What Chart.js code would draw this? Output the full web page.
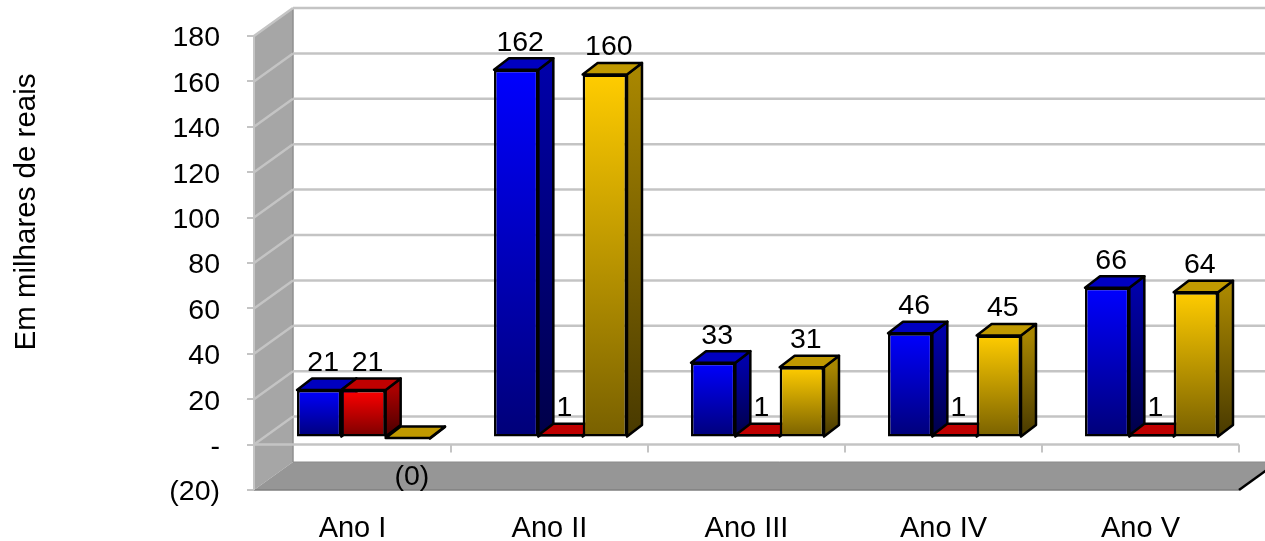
<!DOCTYPE html>
<html>
<head>
<meta charset="utf-8">
<style>
  html, body { margin: 0; padding: 0; background: #fff; }
  #wrap { width: 1265px; height: 541px; }
</style>
<script src="https://cdn.jsdelivr.net/npm/chart.js@4"></script>
</head>
<body>
<div id="wrap"><canvas id="chart" width="1265" height="541"></canvas></div>
<script>
const categories = ['Ano I', 'Ano II', 'Ano III', 'Ano IV', 'Ano V'];
const serieAzul = [21, 162, 33, 46, 66];
const serieVermelha = [21, 1, 1, 1, 1];
const serieAmarela = [-0.2, 160, 31, 45, 64];
const yTitle = 'Em milhares de reais';

const FAMILY = '"Liberation Sans", Arial, sans-serif';
const FONT_SIZE = 28.5;
const GRID = '#c4c4c4';

// oblique offsets of the 3D projection
const WALL = {dx: 39, dy: -28};
const BAR_SHIFT = {dx: 11, dy: -7};
const BAR_DEPTH = {dx: 15, dy: -11.5};

const palette = [
    {top: '#0000ff', bottom: '#000078', cap: '#0000c0', sideTop: '#0000a8', sideBottom: '#000048'},
    {top: '#ff0000', bottom: '#780000', cap: '#c00000', sideTop: '#a80000', sideBottom: '#480000'},
    {top: '#ffcc00', bottom: '#786000', cap: '#c09900', sideTop: '#a88600', sideBottom: '#483900'}
];

function poly(ctx, pts, fill, stroke, width) {
    ctx.beginPath();
    pts.forEach((p, i) => i ? ctx.lineTo(p[0], p[1]) : ctx.moveTo(p[0], p[1]));
    ctx.closePath();
    ctx.fillStyle = fill;
    ctx.fill();
    if (stroke) {
        ctx.lineJoin = 'round';
        ctx.strokeStyle = stroke;
        ctx.lineWidth = width;
        ctx.stroke();
    }
}

function line(ctx, x1, y1, x2, y2, color, width) {
    ctx.beginPath();
    ctx.moveTo(x1, y1);
    ctx.lineTo(x2, y2);
    ctx.strokeStyle = color;
    ctx.lineWidth = width;
    ctx.stroke();
}

function faceGradient(context, from, to) {
    const chart = context.chart;
    if (!chart.scales.y || context.raw === undefined) return from;
    const y = chart.scales.y.getPixelForValue(context.raw);
    const base = chart.scales.y.getPixelForValue(0);
    // scale has no pixels until the first layout is done
    if (!Number.isFinite(y) || !Number.isFinite(base)) return from;
    const g = chart.ctx.createLinearGradient(0, Math.min(y, base), 0, Math.max(y, base) + 0.01);
    g.addColorStop(0, from);
    g.addColorStop(1, to);
    return g;
}

// side and top faces, painted left to right before the library draws the fronts
function drawBarSides(chart) {
    const {ctx} = chart;
    const {dx, dy} = BAR_DEPTH;
    ctx.save();
    ctx.translate(BAR_SHIFT.dx, BAR_SHIFT.dy);
    categories.forEach((c, i) => {
        palette.forEach((colors, d) => {
            const bar = chart.getDatasetMeta(d).data[i];
            const half = bar.width / 2;
            const x0 = bar.x - half, x1 = bar.x + half;
            const top = Math.min(bar.y, bar.base), bottom = Math.max(bar.y, bar.base);
            const side = ctx.createLinearGradient(0, top, 0, bottom + 0.01);
            side.addColorStop(0, colors.sideTop);
            side.addColorStop(1, colors.sideBottom);
            poly(ctx, [[x1, top], [x1 + dx, top + dy], [x1 + dx, bottom + dy], [x1, bottom]], side, '#000', 2.5);
            poly(ctx, [[x0, top], [x0 + dx, top + dy], [x1 + dx, top + dy], [x1, top]], colors.cap, '#000', 2.5);
        });
    });
    ctx.restore();
}

const room3d = {
    id: 'room3d',
    beforeDatasetsDraw(chart) {
        const {ctx, scales: {x, y}} = chart;
        const right = chart.width + WALL.dx;
        const low = y.getPixelForValue(-20);
        const high = y.getPixelForValue(180);
        const zero = y.getPixelForValue(0);
        const l = x.left;

        ctx.save();
        // side wall and floor
        poly(ctx, [[l, high], [l + WALL.dx, high + WALL.dy], [l + WALL.dx, low + WALL.dy], [l, low]], '#a6a6a6');
        poly(ctx, [[l, low], [l + WALL.dx, low + WALL.dy], [x.right + WALL.dx, low + WALL.dy], [x.right, low]], '#969696');
        line(ctx, l, low, x.right, low, '#7f7f7f', 1.5);
        line(ctx, l + WALL.dx, low + WALL.dy, right, low + WALL.dy, '#8a8a8a', 1);
        line(ctx, x.right, low, x.right + WALL.dx, low + WALL.dy, '#000', 2.5);
        line(ctx, l, high, l, low, GRID, 2);
        line(ctx, l + WALL.dx, high + WALL.dy, l + WALL.dx, low + WALL.dy, '#8f8f8f', 1.5);

        // gridlines run along the wall and then across the back
        y.ticks.forEach(t => {
            const py = y.getPixelForValue(t.value);
            if (t.value > -20) {
                line(ctx, l, py, l + WALL.dx, py + WALL.dy, GRID, 2.5);
                line(ctx, l + WALL.dx, py + WALL.dy, right, py + WALL.dy, GRID, 2.5);
            }
        });

        // zero plane with the category ticks
        line(ctx, l, zero, x.right, zero, GRID, 2.5);
        const step = x.width / categories.length;
        categories.forEach((c, i) => {
            const tx = l + step * (i + 1);
            line(ctx, tx, zero, tx, zero + 8, GRID, 2);
        });
        ctx.restore();

        drawBarSides(chart);
    },
    beforeDatasetDraw(chart) {
        chart.ctx.save();
        chart.ctx.translate(BAR_SHIFT.dx, BAR_SHIFT.dy);
    },
    afterDatasetDraw(chart) {
        chart.ctx.restore();
    },
    afterDatasetsDraw(chart) {
        const {ctx, scales: {y}} = chart;
        ctx.save();
        ctx.font = `${FONT_SIZE}px ${FAMILY}`;
        ctx.fillStyle = '#000';
        ctx.textBaseline = 'middle';

        // value axis labels sit a little under their gridline
        ctx.textAlign = 'right';
        y.ticks.forEach(t => {
            ctx.fillText(t.label, 220, y.getPixelForValue(t.value) + 2.5);
        });

        ctx.textAlign = 'center';
        chart.data.datasets.forEach((ds, d) => {
            const meta = chart.getDatasetMeta(d);
            ds.data.forEach((v, i) => {
                const bar = meta.data[i];
                const text = v < 0 ? `(${Math.abs(Math.round(v))})` : String(v);
                const ly = v < 0 ? bar.y + BAR_SHIFT.dy + 39 : bar.y + BAR_SHIFT.dy - 27;
                ctx.fillText(text, bar.x + BAR_SHIFT.dx + 4, ly);
            });
        });
        // axis title
        ctx.font = `29.5px ${FAMILY}`;
        ctx.translate(27, 212);
        ctx.rotate(-Math.PI / 2);
        ctx.fillText(yTitle, 0, 0);
        ctx.restore();
    }
};

function dataset(label, data, colors) {
    return {
        label,
        data,
        clip: false,
        borderColor: '#000',
        borderWidth: 2.5,
        borderSkipped: false,
        backgroundColor: context => faceGradient(context, colors.top, colors.bottom)
    };
}

new Chart(document.getElementById('chart').getContext('2d'), {
    type: 'bar',
    data: {
        labels: categories,
        datasets: [
            dataset('Azul', serieAzul, palette[0]),
            dataset('Vermelha', serieVermelha, palette[1]),
            dataset('Amarela', serieAmarela, palette[2])
        ]
    },
    options: {
        responsive: false,
        animation: false,
        categoryPercentage: 0.675,
        barPercentage: 1,
        layout: {padding: {top: 36, right: 26, left: 0, bottom: 0}},
        plugins: {legend: {display: false}, tooltip: {enabled: false}},
        scales: {
            x: {
                grid: {display: false},
                border: {display: false},
                ticks: {color: '#000', font: {family: FAMILY, size: 29}, padding: 14, maxRotation: 0},
                afterFit: scale => { scale.height = 51; }
            },
            y: {
                min: -20,
                max: 180,
                grid: {drawOnChartArea: false, color: GRID, lineWidth: 2, tickLength: 7},
                border: {display: false},
                ticks: {
                    display: false,
                    stepSize: 20,
                    callback: v => v === 0 ? '-' : v < 0 ? `(${-v})` : v
                },
                afterFit: scale => {
                    scale.width = 254;
                    scale.paddingTop = 0;
                    scale.paddingBottom = 0;
                }
            }
        }
    },
    plugins: [room3d]
});
</script>
</body>
</html>
